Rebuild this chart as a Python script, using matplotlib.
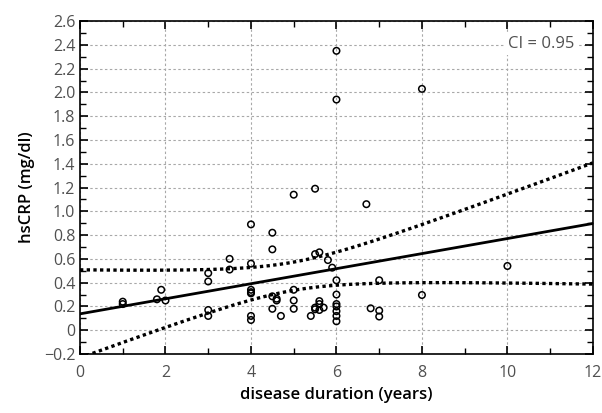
import matplotlib
matplotlib.use("Agg")
import matplotlib.pyplot as plt
import numpy as np
from matplotlib.ticker import MultipleLocator, FuncFormatter

plt.rcParams['font.family'] = ['Open Sans', 'DejaVu Sans']

# disease duration (years) and hsCRP (mg/dl)
duration = [1.0, 1.0, 1.8, 1.9, 2.0,
            3.0, 3.0, 3.0, 3.0, 3.5, 3.5,
            4.0, 4.0, 4.0, 4.0, 4.0, 4.0, 4.0,
            4.5, 4.5, 4.5, 4.5, 4.6, 4.6, 4.7,
            5.0, 5.0, 5.0, 5.0, 5.4,
            5.5, 5.5, 5.5, 5.5, 5.6, 5.6, 5.6, 5.6, 5.7, 5.8, 5.9,
            6.0, 6.0, 6.0, 6.0, 6.0, 6.0, 6.0, 6.0, 6.0,
            6.7, 6.8, 7.0, 7.0, 7.0, 8.0, 8.0, 10.0]
hscrp = [0.24, 0.22, 0.26, 0.34, 0.25,
         0.48, 0.41, 0.17, 0.12, 0.60, 0.51,
         0.89, 0.56, 0.34, 0.32, 0.31, 0.12, 0.086,
         0.82, 0.68, 0.285, 0.18, 0.265, 0.25, 0.12,
         1.14, 0.34, 0.25, 0.18, 0.12,
         1.19, 0.64, 0.19, 0.176, 0.655, 0.245, 0.22, 0.17, 0.19, 0.59, 0.526,
         2.35, 1.94, 0.42, 0.30, 0.22, 0.20, 0.16, 0.12, 0.075,
         1.06, 0.184, 0.42, 0.165, 0.115, 2.03, 0.296, 0.54]

ci_level = 0.95
t_value = 1.96

x = np.array(duration)
y = np.array(hscrp)
n = len(x)
slope, intercept = np.polyfit(x, y, 1)
resid = y - (intercept + slope * x)
s = np.sqrt(np.sum(resid ** 2) / (n - 2))
sxx = np.sum((x - x.mean()) ** 2)

xs = np.linspace(0, 12, 300)
fit = intercept + slope * xs
half = t_value * s * np.sqrt(1 / n + (xs - x.mean()) ** 2 / sxx)

fig = plt.figure(figsize=(6.02, 4.13), dpi=100)
ax = fig.add_axes([0.1329, 0.1429, 0.852, 0.806])

ax.grid(True, which='major', color='#a8a8a8', linestyle=(0, (2.2, 2.2)), linewidth=0.8)
ax.set_axisbelow(True)

ax.plot(xs, fit, color='black', lw=2.0, zorder=3)
ax.plot(xs, fit + half, color='black', lw=2.4, linestyle=(0, (1, 1)), zorder=3)
ax.plot(xs, fit - half, color='black', lw=2.4, linestyle=(0, (1, 1)), zorder=3)
ax.scatter(x, y, s=22, facecolors='none', edgecolors='black', linewidths=1.1, zorder=4)

ax.set_xlim(0, 12)
ax.set_ylim(-0.2, 2.6)
ax.xaxis.set_major_locator(MultipleLocator(2))
ax.xaxis.set_minor_locator(MultipleLocator(1))
ax.yaxis.set_major_locator(MultipleLocator(0.2))
ax.yaxis.set_minor_locator(MultipleLocator(0.1))


def yfmt(v, pos):
    if abs(v) < 1e-9:
        return '0'
    return ('%.1f' % v).replace('-', '\u2212')


ax.yaxis.set_major_formatter(FuncFormatter(yfmt))
ax.tick_params(which='both', direction='in', top=True, right=True, color='black',
               labelsize=11.5, labelcolor='#505050')
ax.tick_params(which='major', length=6, width=1.2)
ax.tick_params(which='minor', length=4, width=1.0)
ax.tick_params(axis='x', pad=8)
for sp in ax.spines.values():
    sp.set_linewidth(1.2)

ax.set_xlabel('disease duration (years)', fontsize=12, fontweight='semibold', labelpad=4)
ax.set_ylabel('hsCRP (mg/dl)', fontsize=12, fontweight='semibold', labelpad=6)

ax.text(0.963, 0.93, 'CI = %.2f' % ci_level, transform=ax.transAxes, ha='right', va='center',
        fontsize=12, color='#505050',
        bbox=dict(facecolor='white', edgecolor='none', pad=2))

fig.savefig('out.png', dpi=100)
